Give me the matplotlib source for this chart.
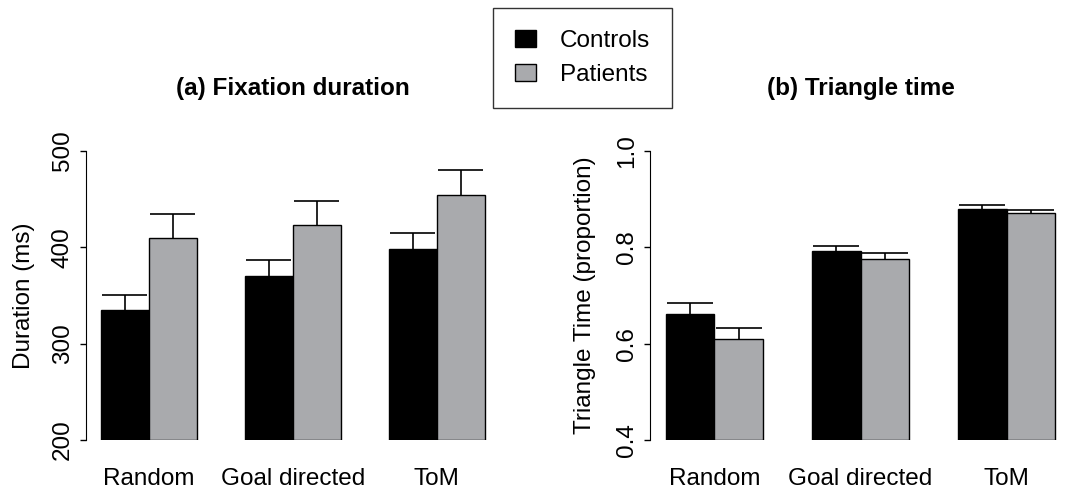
import matplotlib
matplotlib.use("Agg")
import matplotlib.pyplot as plt
from matplotlib.patches import Patch

plt.rcParams["font.family"] = ["Liberation Sans", "DejaVu Sans"]

# Données
conditions = ["Random", "Goal directed", "ToM"]
groups = ["Controls", "Patients"]
colors = ["black", "#a9aaad"]

duration_controls = [335, 370, 398]
duration_controls_err = [15, 17, 17]
duration_patients = [410, 423, 454]
duration_patients_err = [25, 25, 26]

triangle_controls = [0.662, 0.792, 0.880]
triangle_controls_err = [0.022, 0.011, 0.008]
triangle_patients = [0.610, 0.776, 0.872]
triangle_patients_err = [0.022, 0.012, 0.005]

FS = 17.5


def draw_panel(ax, means, errs, ylim, yticks, yticklabels, ylabel, title, label_x):
    # barplot façon R : barres de largeur 1, un espace de 1 entre groupes
    for g in range(2):
        xs = [1.5 + 3 * i + g for i in range(len(conditions))]
        ax.bar(xs, [m - ylim[0] for m in means[g]], bottom=ylim[0], width=1.0,
               color=colors[g], edgecolor="black", linewidth=1.0, zorder=2)
        tops = [m + e for m, e in zip(means[g], errs[g])]
        ax.vlines(xs, means[g], tops, color="black", linewidth=1.2, zorder=3)
        ax.hlines(tops, [x - 0.47 for x in xs], [x + 0.47 for x in xs],
                  color="black", linewidth=1.2, zorder=3)

    ax.set_xlim(0.68, 9.32)
    ax.set_ylim(*ylim)
    for side in ["top", "right", "bottom"]:
        ax.spines[side].set_visible(False)
    ax.spines["left"].set_bounds(ylim[0], ylim[1])
    ax.set_yticks(yticks)
    ax.set_yticklabels(yticklabels, rotation=90, va="center", fontsize=FS)
    ax.tick_params(axis="y", direction="out", length=4.5, width=1, pad=4)
    ax.set_xticks([2 + 3 * i for i in range(len(conditions))])
    ax.set_xticklabels(conditions, fontsize=FS)
    ax.tick_params(axis="x", length=0, pad=20)
    ax.set_ylabel(ylabel, fontsize=FS)
    ax.yaxis.set_label_coords(label_x, 0.5)
    ax.set_title(title, fontsize=FS, fontweight="bold", pad=40)


fig = plt.figure(figsize=(10.75, 4.92), dpi=100)
ax1 = fig.add_axes([0.0796, 0.1057, 0.3855, 0.5874])
ax2 = fig.add_axes([0.6047, 0.1057, 0.3916, 0.5874])

draw_panel(ax1, [duration_controls, duration_patients],
           [duration_controls_err, duration_patients_err],
           (200, 500), [200, 300, 400, 500], ["200", "300", "400", "500"],
           "Duration (ms)", "(a) Fixation duration", -0.122)
draw_panel(ax2, [triangle_controls, triangle_patients],
           [triangle_controls_err, triangle_patients_err],
           (0.4, 1.0), [0.4, 0.6, 0.8, 1.0], ["0.4", "0.6", "0.8", "1.0"],
           "Triangle Time (proportion)", "(b) Triangle time", -0.128)

handles = [Patch(facecolor=c, edgecolor="black", linewidth=1.0) for c in colors]
leg = fig.legend(handles, groups, loc="upper left",
                 bbox_to_anchor=(493 / 1075, 1 - 8 / 492), fontsize=FS,
                 frameon=True, fancybox=False, edgecolor="black",
                 handlelength=0.86, handleheight=0.7, handletextpad=1.0,
                 labelspacing=0.5, borderpad=0.9, borderaxespad=0)
leg.get_frame().set_linewidth(1.0)

fig.savefig("out.png", dpi=100)
